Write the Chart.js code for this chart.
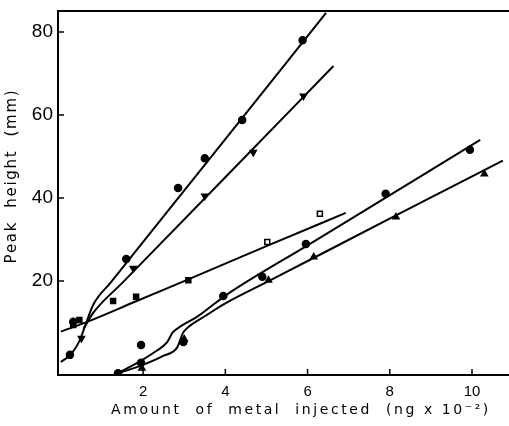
<!DOCTYPE html>
<html>
<head>
<meta charset="utf-8">
<script src="https://cdn.jsdelivr.net/npm/chart.js@4.4.1/dist/chart.umd.min.js"></script>
<style>
  html, body { margin: 0; padding: 0; background: #fff; }
  canvas { display: block; }
</style>
</head>
<body>
<canvas id="myChart" width="509" height="426"></canvas>
<script>
// measured points, [x (ng x 10^-2), y (mm)]
var ptsA = [[0.22, 2.2], [0.3, 10.2], [1.59, 25.3], [2.85, 42.4], [3.5, 49.6], [4.41, 58.8], [5.88, 78]];
var ptsB = [[0.5, 6.2], [1.76, 23.1], [3.5, 40.5], [4.68, 51], [5.9, 64.6]];
var ptsC = [[0.3, 9.4], [0.45, 10.6], [1.27, 15.2], [1.83, 16.2], [3.1, 20.2], [5.02, 29.4], [6.3, 36.2]];
var ptsD = [[1.39, -2.2], [1.95, 0.3], [2.98, 5.3], [3.95, 16.4], [4.9, 21], [5.96, 28.9], [7.9, 41], [9.95, 51.6]];
var ptsE = [[1.97, -1], [3.0, 6.0], [5.05, 20.2], [6.15, 25.8], [8.15, 35.4], [10.3, 45.8]];
var ptsOdd = [[1.95, 4.6]];

// hand-drawn calibration curves
var curveA = [[0, 0.5], [0.25, 2.4], [0.45, 5.5], [0.6, 9.5], [0.8, 14.5], [1.2, 19.5], [3.5, 48.0], [6.45, 84.6]];
var curveB = [[0.55, 8.5], [0.8, 12.5], [1.5, 19.6], [4.0, 45.0], [6.63, 71.8]];
var curveC = [[0, 7.8], [0.7, 10.4], [1.8, 15.0], [3.1, 20.4], [5.0, 28.4], [6.93, 36.4]];
var curveD = [[1.39, -2.2], [1.9, 0.5], [2.3, 3], [2.58, 5.2], [2.72, 7.6], [2.9, 9], [3.3, 11.3], [3.8, 15.0], [4.2, 17.8], [6.0, 28.6], [10.2, 54]];
var curveE = [[1.39, -2.2], [2.0, -0.2], [2.5, 2], [2.83, 4], [2.97, 7.5], [3.1, 8.9], [3.5, 11.5], [4.0, 14.6], [5.1, 20.2], [8.15, 35.8], [10.75, 49]];

var xTicks = [2, 4, 6, 8, 10];
var yTicks = [20, 40, 60, 80];
var xTitle = 'Amount  of  metal  injected  (ng x 10\u207B\u00B2)';
var yTitle = 'Peak  height  (mm)';

function xy(arr) {
    return arr.map(function (p) { return { x: p[0], y: p[1] }; });
}

function curve(arr) {
    return {
        type: 'line', data: xy(arr), showLine: true, borderColor: '#000', borderWidth: 2,
        pointRadius: 0, fill: false, cubicInterpolationMode: 'monotone'
    };
}

function marks(arr, style, fillCol, rot) {
    return {
        type: 'scatter', data: xy(arr), pointStyle: style, pointRadius: 3.5, pointRotation: rot || 0,
        pointBackgroundColor: fillCol || '#000', pointBorderColor: '#000', pointBorderWidth: 1.5
    };
}

// frame extras: top rule, inward tick marks, spaced axis titles
var framePlugin = {
    id: 'frame',
    afterDraw: function (chart) {
        var c = chart.ctx, a = chart.chartArea;
        var xs = chart.scales.x, ys = chart.scales.y;
        c.save();
        c.strokeStyle = '#000';
        c.lineWidth = 2;
        c.beginPath();
        c.moveTo(a.left - 1, a.top);
        c.lineTo(a.right, a.top);
        c.stroke();
        c.lineWidth = 1.5;
        xTicks.forEach(function (v) {
            var px = xs.getPixelForValue(v);
            c.beginPath(); c.moveTo(px, a.bottom); c.lineTo(px, a.bottom - 6); c.stroke();
        });
        yTicks.forEach(function (v) {
            var py = ys.getPixelForValue(v);
            c.beginPath(); c.moveTo(a.left, py); c.lineTo(a.left + 6, py); c.stroke();
        });

        c.fillStyle = '#000';
        c.textAlign = 'center';
        c.textBaseline = 'middle';
        c.font = '14px "DejaVu Sans"';
        var w = c.measureText(xTitle).width;
        c.letterSpacing = ((377 - w) / (xTitle.length - 1)).toFixed(2) + 'px';
        c.fillText(xTitle, 301, 410);
        c.letterSpacing = '0px';

        c.font = '15px "DejaVu Sans"';
        w = c.measureText(yTitle).width;
        c.translate(12, 176);
        c.rotate(-Math.PI / 2);
        c.letterSpacing = ((173 - w) / (yTitle.length - 1)).toFixed(2) + 'px';
        c.fillText(yTitle, 0, 0);
        c.restore();
    }
};

document.addEventListener("DOMContentLoaded", function () {
    var ctx = document.getElementById("myChart").getContext("2d");

    var myChart = new Chart(ctx, {
        type: 'scatter',
        data: {
            datasets: [
                curve(curveA), curve(curveB), curve(curveC), curve(curveD), curve(curveE),
                marks(ptsA, 'circle'),
                marks(ptsB, 'triangle', '#000', 180),
                marks(ptsC, 'rect', ['#000', '#000', '#000', '#000', '#000', '#fff', '#fff']),
                marks(ptsD, 'circle'),
                marks(ptsE, 'triangle'),
                marks(ptsOdd, 'circle')
            ]
        },
        options: {
            responsive: false,
            animation: false,
            devicePixelRatio: 1,
            layout: { autoPadding: false, padding: { top: 11, right: 0, left: 0, bottom: 0 } },
            plugins: {
                legend: { display: false },
                tooltip: { enabled: false }
            },
            scales: {
                x: {
                    type: 'linear', min: -0.07, max: 10.9,
                    afterBuildTicks: function (s) { s.ticks = xTicks.map(function (v) { return { value: v }; }); },
                    afterFit: function (s) { s.height = 51; s.paddingLeft = 0; s.paddingRight = 0; },
                    grid: { display: false, drawTicks: false },
                    border: { display: true, color: '#000', width: 2 },
                    ticks: { color: '#000', padding: 8, maxRotation: 0, font: { family: '"Liberation Sans"', size: 15 } }
                },
                y: {
                    type: 'linear', min: -2.65, max: 85.06,
                    afterBuildTicks: function (s) { s.ticks = yTicks.map(function (v) { return { value: v }; }); },
                    afterFit: function (s) { s.width = 58; s.paddingTop = 0; s.paddingBottom = 0; },
                    grid: { display: false, drawTicks: false },
                    border: { display: true, color: '#000', width: 2 },
                    ticks: { color: '#000', padding: 5, font: { family: '"Liberation Sans"', size: 19 } }
                }
            }
        },
        plugins: [framePlugin]
    });
});
</script>
</body>
</html>
